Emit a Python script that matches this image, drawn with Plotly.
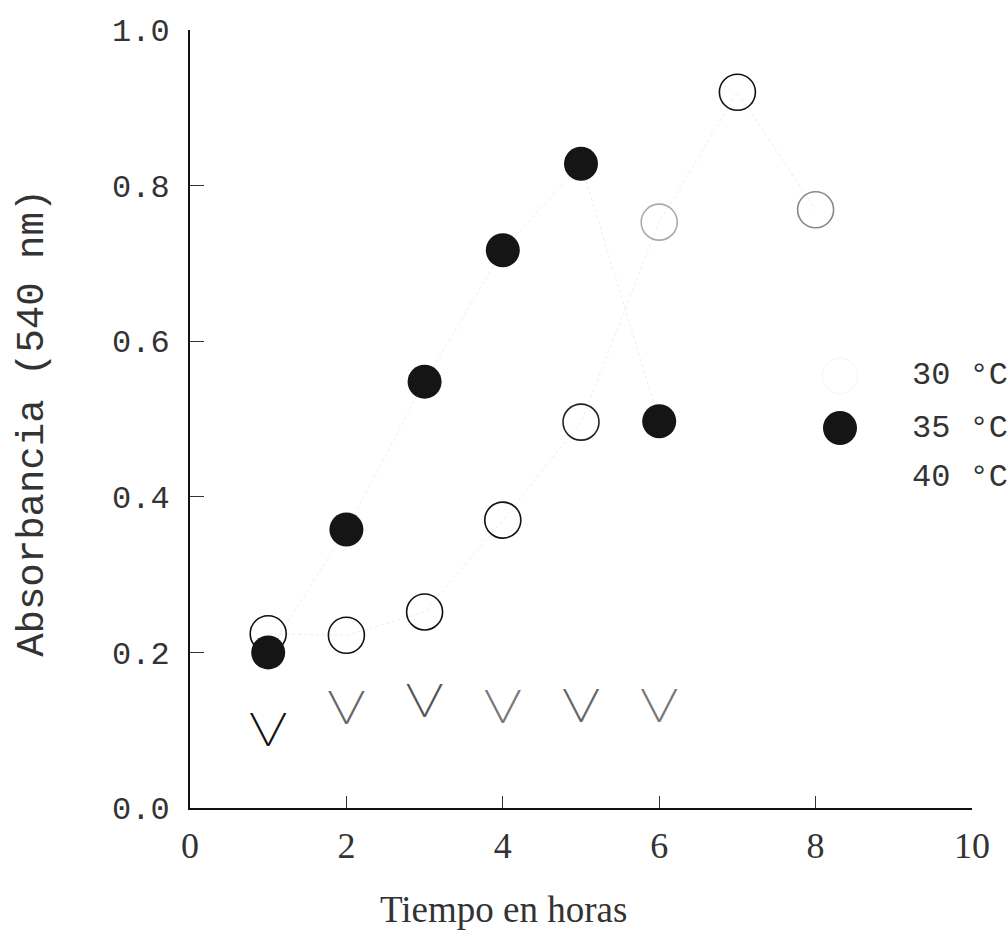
import plotly.graph_objects as go

# ---- data ----
tiempo_30 = [1, 2, 3, 4, 5, 6, 7, 8]
abs_30 = [0.224, 0.222, 0.252, 0.370, 0.496, 0.753, 0.920, 0.769]

tiempo_35 = [1, 2, 3, 4, 5, 6]
abs_35 = [0.200, 0.358, 0.548, 0.717, 0.828, 0.497]

tiempo_40 = [1, 2, 3, 4, 5, 6]
abs_40 = [0.098, 0.126, 0.135, 0.127, 0.128, 0.128]

series_labels = ["30 °C", "35 °C", "40 °C"]
x_ticks = [0, 2, 4, 6, 8, 10]
y_ticks = [0.0, 0.2, 0.4, 0.6, 0.8, 1.0]

# ---- styling (kept apart from data) ----
open_line_colors = ["#111", "#111", "#111", "#111", "#222", "#aaa", "#111", "#888"]
v_colors = ["#111", "#666", "#555", "#777", "#666", "#777"]
V_GLYPH = "\u2572\u2571"  # two box-drawing diagonals forming a "V"

fig = go.Figure()

# faint remnants of connecting lines
fig.add_trace(go.Scatter(x=tiempo_30, y=abs_30, mode="lines",
                         line=dict(color="#ededed", width=1, dash="dot"),
                         hoverinfo="skip", showlegend=False))
fig.add_trace(go.Scatter(x=tiempo_35, y=abs_35, mode="lines",
                         line=dict(color="#ededed", width=1, dash="dot"),
                         hoverinfo="skip", showlegend=False))

# 30 °C : open circles
fig.add_trace(go.Scatter(
    x=tiempo_30, y=abs_30, mode="markers", name=series_labels[0],
    marker=dict(symbol="circle-open", size=36, color=open_line_colors,
                line=dict(width=1.6, color=open_line_colors)),
    showlegend=False))

# 35 °C : filled circles
fig.add_trace(go.Scatter(
    x=tiempo_35, y=abs_35, mode="markers", name=series_labels[1],
    marker=dict(symbol="circle", size=34, color="#151515",
                line=dict(width=0)),
    showlegend=False))

# 40 °C : "V" shaped markers
fig.add_trace(go.Scatter(
    x=tiempo_40, y=abs_40, mode="text", name=series_labels[2],
    text=[V_GLYPH] * len(tiempo_40), textposition="middle center",
    textfont=dict(family="DejaVu Sans Mono", size=28, color=v_colors),
    showlegend=False))

mono = "Liberation Mono"
serif = "Liberation Serif"

fig.update_layout(
    width=1008, height=937,
    margin=dict(l=190, r=36, t=30, b=129),
    paper_bgcolor="white", plot_bgcolor="white",
    xaxis=dict(range=[0, 10], tickvals=x_ticks, ticktext=[str(v) for v in x_ticks],
               showline=True, linecolor="#111", linewidth=2,
               ticks="inside", ticklen=12, tickwidth=1, tickcolor="#333",
               showgrid=False, zeroline=False,
               tickfont=dict(family=serif, size=36, color="#333"),
               ticklabelstandoff=5),
    yaxis=dict(range=[0, 1.0], tickvals=y_ticks, tickformat=".1f",
               showline=True, linecolor="#111", linewidth=2,
               ticks="inside", ticklen=14, tickwidth=1, tickcolor="#333",
               showgrid=False, zeroline=False,
               tickfont=dict(family=mono, size=32, color="#333"),
               ticklabelstandoff=12),
    showlegend=False,
)

annotations = [
    dict(text="Tiempo en horas", xref="paper", yref="paper",
         x=0.4015, y=-0.131, xanchor="center", yanchor="middle",
         showarrow=False, font=dict(family=serif, size=37, color="#333")),
    dict(text="Absorbancia (540 nm)", xref="paper", yref="paper",
         x=-0.2008, y=0.495, xanchor="center", yanchor="middle", textangle=-90,
         showarrow=False, font=dict(family=mono, size=39, color="#333")),
]
legend_y = [0.5553, 0.4884, 0.4242]
for lab, yy in zip(series_labels, legend_y):
    annotations.append(dict(text=lab, xref="paper", yref="paper", x=0.9207, y=yy,
                            xanchor="left", yanchor="middle", showarrow=False,
                            font=dict(family=mono, size=32, color="#333")))
fig.update_layout(annotations=annotations)

# legend keys
key_x = 0.8312
fig.add_shape(type="circle", xref="paper", yref="paper",
              xsizemode="pixel", ysizemode="pixel",
              xanchor=key_x, yanchor=legend_y[1], x0=-17, x1=17, y0=-17, y1=17,
              fillcolor="#151515", line=dict(width=0))
fig.add_shape(type="circle", xref="paper", yref="paper",
              xsizemode="pixel", ysizemode="pixel",
              xanchor=key_x, yanchor=legend_y[0], x0=-18, x1=18, y0=-18, y1=18,
              fillcolor="rgba(0,0,0,0)", line=dict(width=1, color="#f4f4f4"))

fig.write_html("out.html")
